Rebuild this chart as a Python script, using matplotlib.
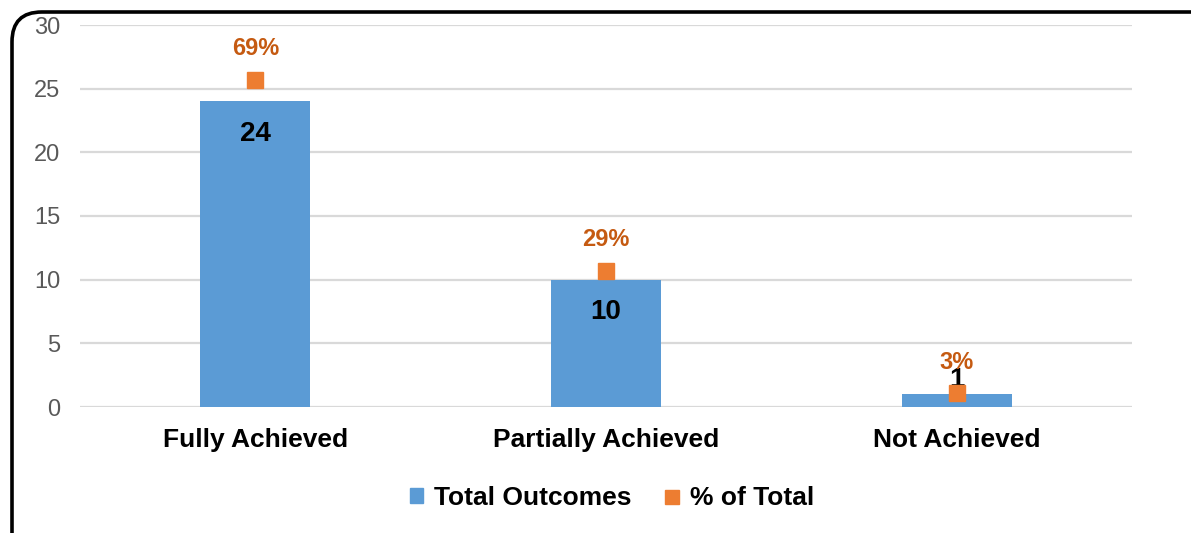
import matplotlib.pyplot as plt
from matplotlib.patches import FancyBboxPatch
from matplotlib.lines import Line2D
from matplotlib.patches import Patch
import numpy as np

plt.rcParams['font.family'] = ['Liberation Sans', 'DejaVu Sans']

categories = ['Fully Achieved', 'Partially Achieved', 'Not Achieved']
total_outcomes = [24, 10, 1]
pct_of_total = [0.6857, 0.2857, 0.0286]
pct_labels = ['69%', '29%', '3%']

blue = '#5B9BD5'
orange = '#ED7D31'
orange_txt = '#C55A11'

fig = plt.figure(figsize=(11.91, 5.33), dpi=100)

# rounded frame, running off the right/bottom edge
frame = FancyBboxPatch((12 / 1191, -0.2), 1.05, 1 - 12 / 533 + 0.2,
                       boxstyle='round,pad=0,rounding_size=0.025',
                       transform=fig.transFigure, fill=False,
                       edgecolor='black', linewidth=2.6, mutation_aspect=1191 / 533)
fig.patches.append(frame)

ax = fig.add_axes([80 / 1191, 126 / 533, 1052 / 1191, 382 / 533])
x = np.arange(len(categories))
ax.bar(x, total_outcomes, width=0.314, color=blue, zorder=2)
ax.set_xlim(-0.5, 2.5)
ax.set_ylim(0, 30)
ax.set_yticks(range(0, 31, 5))
ax.grid(axis='y', color='#D9D9D9', linewidth=1.6, zorder=0)
ax.set_axisbelow(True)
for s in ax.spines.values():
    s.set_visible(False)
ax.tick_params(axis='both', length=0)
ax.tick_params(axis='y', labelsize=17, labelcolor='#595959', pad=14)
ax.set_xticks(x)
ax.set_xticklabels(categories, fontsize=19, fontweight='bold')
ax.tick_params(axis='x', pad=15)

for xi, v in zip(x, total_outcomes):
    if v >= 3:
        ax.annotate(str(v), (xi, v), xytext=(0, -14), textcoords='offset points',
                    ha='center', va='top', fontsize=20, fontweight='bold', color='black', zorder=5)
    else:
        # too short for an inside label: sits just above the bar
        ax.annotate(str(v), (xi, v), xytext=(0, 1), textcoords='offset points',
                    ha='center', va='bottom', fontsize=20, fontweight='bold', color='black', zorder=5)

ax2 = ax.twinx()
ax2.set_ylim(0, 0.8)
ax2.axis('off')
ax2.plot(x, pct_of_total, linestyle='none', marker='s', markersize=11,
         color=orange, zorder=3)
for xi, p, t in zip(x, pct_of_total, pct_labels):
    ax2.annotate(t, (xi, p), xytext=(0, 14), textcoords='offset points',
                 ha='center', va='bottom', fontsize=17, fontweight='bold', color=orange_txt)

handles = [Patch(color=blue), Line2D([], [], linestyle='none', marker='s', markersize=10, color=orange)]
fig.legend(handles, ['Total Outcomes', '% of Total'], loc='center', bbox_to_anchor=(612 / 1191, 1 - 498 / 533),
           ncol=2, frameon=False, prop={'size': 19, 'weight': 'bold'},
           handlelength=0.5, handleheight=0.5, handletextpad=0.4, columnspacing=1.3)

fig.savefig('out.png', dpi=100)
